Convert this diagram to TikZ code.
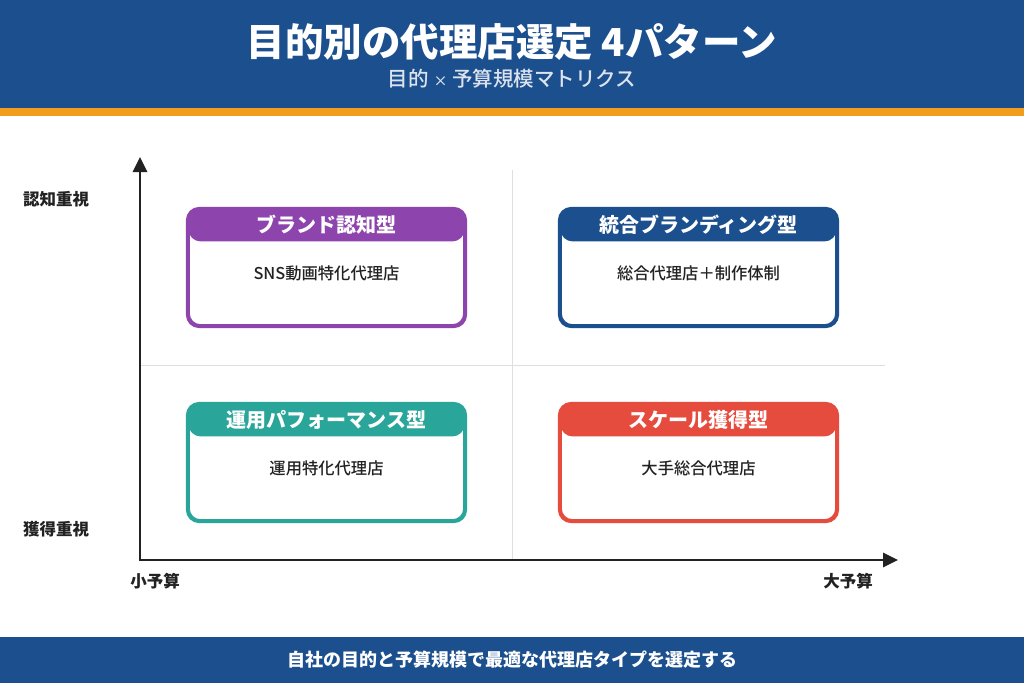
\documentclass[tikz,border=0pt]{standalone}
\usepackage{fontspec}
\setmainfont{Noto Sans CJK JP}
\newfontfamily\medfont{Noto Sans CJK JP Medium}
\usepackage{tikz}
\usetikzlibrary{positioning,arrows.meta}

\definecolor{headblue}{HTML}{1B4F8E}
\definecolor{barorange}{HTML}{F09E1C}
\definecolor{cardpurple}{HTML}{8E44AD}
\definecolor{cardteal}{HTML}{2AA59A}
\definecolor{cardred}{HTML}{E54C3E}
\definecolor{inkdark}{HTML}{222222}
\definecolor{subgray}{HTML}{DCE3EE}

\begin{document}
\begin{tikzpicture}[
    x=1pt, y=-1pt,
    card/.style={rectangle, draw, line width=2.6pt, fill=white, minimum width=276pt, minimum height=116pt, rounded corners=12pt},
    cardhead/.style={rectangle, minimum width=276pt, minimum height=33pt, rounded corners=12pt, text=white, font=\fontsize{20}{20}\selectfont\bfseries},
    cardtext/.style={inner sep=0pt, text=inkdark, font=\fontsize{16.3}{17}\medfont},
    axislabel/.style={inner sep=0pt, text=inkdark, font=\fontsize{16.5}{17}\selectfont\bfseries},
    axis/.style={line width=2.8pt, color=inkdark, -{Triangle[width=14pt,length=15pt]}},
    gridline/.style={line width=0.8pt, color=gray!25}
]

% page
\useasboundingbox (0,0) rectangle (1024,683);
\fill[white] (0,0) rectangle (1024,683);

% header and footer bands
\fill[headblue] (0,0) rectangle (1024,108);
\fill[barorange] (0,108) rectangle (1024,116);
\fill[headblue] (0,637) rectangle (1024,683);
\node[text=white, font=\fontsize{38.5}{39}\selectfont\bfseries] (title) at (512,42) {目的別の代理店選定 4パターン};
\node[text=subgray, font=\fontsize{20.5}{21}\medfont] (subtitle) at (512,79) {目的 {\fontsize{14}{14}\selectfont ×} 予算規模マトリクス};
\node[text=white, font=\fontsize{18}{19}\selectfont\bfseries] (footer) at (512,660) {自社の目的と予算規模で最適な代理店タイプを選定する};

% axes and grid
\coordinate (origin) at (140,560);
\coordinate (ytop) at (140,157);
\coordinate (xend) at (898,560);
\coordinate (vtop) at (512,170);
\coordinate (vbot) at (512,560);
\coordinate (hleft) at (140,365);
\coordinate (hright) at (885,365);
\draw[gridline] (vtop) -- (vbot);
\draw[gridline] (hleft) -- (hright);
\draw[axis] (origin) -- (ytop);
\draw[axis] ([xshift=-1.4pt]origin) -- (xend);

\node[axislabel] (high) at (56,199) {認知重視};
\node[axislabel] (low) at (56,529) {獲得重視};
\node[axislabel] (small) at (155,581) {小予算};
\node[axislabel] (large) at (848,581) {大予算};

% four pattern cards
\node[card, draw=cardpurple] (brand) at (326.5,267.5) {};
\node[cardhead, fill=cardpurple, anchor=north] (brandhead) at (brand.north) {ブランド認知型};
\draw[cardpurple, line width=2.6pt, rounded corners=12pt] (brand.north west) rectangle (brand.south east);
\node[cardtext, below=23.5pt of brandhead] (brandtext) {SNS動画特化代理店};

\node[card, draw=headblue] (integ) at (698.5,267.5) {};
\node[cardhead, fill=headblue, anchor=north] (integhead) at (integ.north) {統合ブランディング型};
\draw[headblue, line width=2.6pt, rounded corners=12pt] (integ.north west) rectangle (integ.south east);
\node[cardtext, below=23.5pt of integhead] (integtext) {総合代理店＋制作体制};

\node[card, draw=cardteal] (perf) at (326.5,462.5) {};
\node[cardhead, fill=cardteal, anchor=north] (perfhead) at (perf.north) {運用パフォーマンス型};
\draw[cardteal, line width=2.6pt, rounded corners=12pt] (perf.north west) rectangle (perf.south east);
\node[cardtext, below=23.5pt of perfhead] (perftext) {運用特化代理店};

\node[card, draw=cardred] (scale) at (698.5,462.5) {};
\node[cardhead, fill=cardred, anchor=north] (scalehead) at (scale.north) {スケール獲得型};
\draw[cardred, line width=2.6pt, rounded corners=12pt] (scale.north west) rectangle (scale.south east);
\node[cardtext, below=23.5pt of scalehead] (scaletext) {大手総合代理店};

\end{tikzpicture}
\end{document}
